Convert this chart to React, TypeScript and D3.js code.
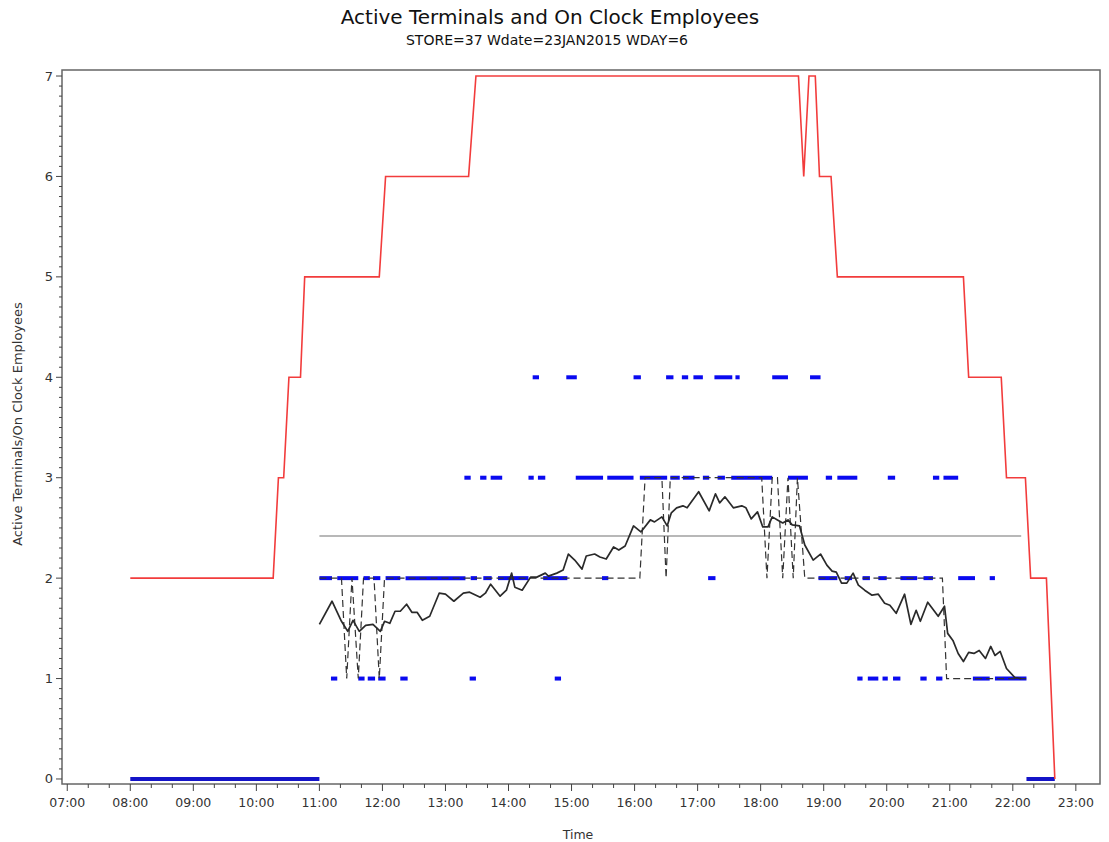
import React from "react";
import * as d3 from "d3";

// ---------- data ----------
const redTimes = ["08:00","10:16","10:21","10:26","10:31","10:42","10:46","11:57","12:03","13:22","13:29","18:36","18:41","18:46","18:52","18:56","19:07","19:13","21:13","21:18","21:49","21:54","22:12","22:17","22:32","22:40"];
const redValues = [2,2,3,3,4,4,5,5,6,6,7,7,6,7,7,6,6,5,5,4,4,3,3,2,2,0];

const dashTimes = ["11:00","11:21","11:26","11:31","11:37","11:42","11:52","11:57","12:02","16:05","16:10","16:26","16:30","16:34","18:01","18:06","18:11","18:16","18:21","18:26","18:31","18:35","18:42","20:53","20:57","22:13"];
const dashValues = [2,2,1,2,1,2,2,1,2,2,3,3,2,3,3,2,3,3,2,3,2,3,2,2,1,1];

const empTimes = ["11:00","11:12","11:21","11:27","11:32","11:38","11:44","11:51","11:58","12:02","12:07","12:12","12:17","12:23","12:28","12:33","12:38","12:45","12:54","13:00","13:08","13:17","13:23","13:33","13:38","13:43","13:52","13:58","14:03","14:06","14:13","14:21","14:27","14:35","14:38","14:46","14:52","14:57","15:03","15:10","15:14","15:22","15:27","15:33","15:40","15:45","15:51","15:59","16:06","16:15","16:19","16:26","16:31","16:35","16:40","16:46","16:50","17:01","17:11","17:17","17:21","17:26","17:34","17:42","17:46","17:51","17:57","18:02","18:07","18:11","18:16","18:21","18:26","18:30","18:37","18:42","18:50","18:57","19:03","19:08","19:12","19:17","19:22","19:28","19:33","19:39","19:46","19:52","19:58","20:03","20:09","20:17","20:23","20:28","20:32","20:39","20:44","20:49","20:55","20:58","21:03","21:08","21:13","21:18","21:23","21:28","21:34","21:39","21:43","21:48","21:54","22:02","22:08"];
const empValues = [1.54,1.77,1.57,1.47,1.58,1.47,1.53,1.54,1.47,1.57,1.55,1.67,1.67,1.74,1.66,1.66,1.58,1.62,1.85,1.84,1.77,1.85,1.86,1.81,1.85,1.94,1.82,1.88,2.05,1.91,1.88,2.01,2.01,2.05,2.02,2.05,2.08,2.24,2.18,2.09,2.22,2.24,2.21,2.19,2.31,2.28,2.32,2.52,2.46,2.58,2.56,2.61,2.52,2.65,2.70,2.72,2.70,2.86,2.67,2.84,2.75,2.81,2.70,2.72,2.70,2.59,2.66,2.51,2.51,2.61,2.58,2.55,2.58,2.53,2.52,2.33,2.18,2.24,2.13,2.07,2.06,1.95,1.95,2.05,1.93,1.88,1.83,1.84,1.75,1.73,1.65,1.84,1.54,1.68,1.57,1.76,1.69,1.62,1.72,1.45,1.38,1.25,1.17,1.26,1.25,1.28,1.20,1.32,1.23,1.27,1.10,1.01,1.00];

const meanValue = 2.42;
const meanStart = "11:00";
const meanEnd = "22:08";

// blue terminal segments: [start, end] per level
const blueLevel0 = [["08:00","11:00"],["22:13","22:40"]];
const blueLevel1 = [["11:11","11:17"],["11:37","11:43"],["11:46","11:53"],["11:56","12:03"],["12:17","12:24"],["13:23","13:29"],["14:44","14:50"],["19:32","19:37"],["19:42","19:52"],["19:56","20:01"],["20:06","20:13"],["20:32","20:38"],["20:47","20:53"],["21:22","21:38"],["21:43","22:13"]];
const blueLevel2 = [["11:00","11:12"],["11:17","11:37"],["11:42","11:48"],["11:51","11:58"],["12:03","12:17"],["12:22","13:19"],["13:24","13:30"],["13:36","13:44"],["13:50","14:19"],["14:33","14:56"],["15:29","15:35"],["17:10","17:17"],["18:55","19:13"],["19:20","19:27"],["19:37","19:44"],["19:52","20:00"],["20:13","20:29"],["20:35","20:44"],["21:08","21:24"],["21:38","21:43"]];
const blueLevel3 = [["13:18","13:24"],["13:33","13:39"],["13:43","13:54"],["14:19","14:24"],["14:28","14:35"],["15:04","15:30"],["15:34","15:59"],["16:05","16:31"],["16:34","16:43"],["16:46","16:57"],["17:05","17:11"],["17:19","17:26"],["17:32","18:11"],["18:26","18:45"],["19:02","19:08"],["19:13","19:32"],["20:01","20:08"],["20:44","20:50"],["20:54","21:08"]];
const blueLevel4 = [["14:23","14:29"],["14:55","15:05"],["15:59","16:06"],["16:30","16:37"],["16:45","16:51"],["16:56","17:05"],["17:16","17:33"],["17:36","17:40"],["18:11","18:26"],["18:47","18:57"]];

const blueLevels = [blueLevel0, blueLevel1, blueLevel2, blueLevel3, blueLevel4];

const yTicks = [0, 1, 2, 3, 4, 5, 6, 7];
const xTickLabels = ["07:00","08:00","09:00","10:00","11:00","12:00","13:00","14:00","15:00","16:00","17:00","18:00","19:00","20:00","21:00","22:00","23:00"];

const titleText = "Active Terminals and On Clock Employees";
const subtitleText = "STORE=37 Wdate=23JAN2015 WDAY=6";
const yLabel = "Active Terminals/On Clock Employees";
const xLabel = "Time";

// ---------- helpers ----------
const toMin = (s: string) => {
  const [h, m] = s.split(":").map(Number);
  return h * 60 + m;
};

const W = 1109;
const H = 842;
const L = 62, R = 1100, T = 70, B = 784;

export default function App() {
  const x = d3.scaleLinear().domain([415, 1403]).range([L, R]);
  const y = d3.scaleLinear().domain([-0.05, 7.06]).range([B, T]);

  const lineGen = d3
    .line<[number, number]>()
    .x((d) => x(d[0]))
    .y((d) => y(d[1]));

  const redPath = lineGen(redTimes.map((t, i) => [toMin(t), redValues[i]]))!;
  const dashPath = lineGen(dashTimes.map((t, i) => [toMin(t), dashValues[i]]))!;
  const empPath = lineGen(empTimes.map((t, i) => [toMin(t), empValues[i]]))!;

  const font = "'DejaVu Sans', Verdana, sans-serif";
  const axisColor = "#444";
  const textColor = "#333";

  const minorY = d3.range(0, 71).map((i) => i / 10).filter((v) => Math.abs(v - Math.round(v)) > 1e-6);
  const majorX = xTickLabels.map(toMin);
  const minorX = d3.range(toMin("07:00"), toMin("23:00"), 20).filter((m) => m % 60 !== 0);

  return (
    <svg
      width={W}
      height={H}
      style={{ position: "absolute", left: 0, top: 0, background: "#fff" }}
      fontFamily={font}
    >
      <rect x={0} y={0} width={W} height={H} fill="#fff" />
      {/* titles */}
      <text x={550} y={24} textAnchor="middle" fontSize={20} fill="#111">
        {titleText}
      </text>
      <text x={547} y={45} textAnchor="middle" fontSize={14} fill="#111">
        {subtitleText}
      </text>

      {/* frame */}
      <rect x={L} y={T} width={R - L} height={B - T} fill="none" stroke="#666" strokeWidth={1.5} />

      {/* y axis ticks */}
      {yTicks.map((v) => (
        <g key={"y" + v}>
          <line x1={L - 6} x2={L} y1={y(v)} y2={y(v)} stroke={axisColor} strokeWidth={1} />
          <text x={L - 9} y={y(v) + 4.5} textAnchor="end" fontSize={13} fill={textColor}>
            {v}
          </text>
        </g>
      ))}
      {minorY.map((v) => (
        <line key={"my" + v} x1={L - 3} x2={L} y1={y(v)} y2={y(v)} stroke={axisColor} strokeWidth={1} />
      ))}

      {/* x axis ticks */}
      {majorX.map((m, i) => (
        <g key={"x" + m}>
          <line x1={x(m)} x2={x(m)} y1={B} y2={B + 7} stroke={axisColor} strokeWidth={1} />
          <text x={x(m)} y={B + 23} textAnchor="middle" fontSize={12.5} fill={textColor}>
            {xTickLabels[i]}
          </text>
        </g>
      ))}
      {minorX.map((m) => (
        <line key={"mx" + m} x1={x(m)} x2={x(m)} y1={B} y2={B + 4} stroke={axisColor} strokeWidth={1} />
      ))}

      {/* axis labels */}
      <text x={578} y={839} textAnchor="middle" fontSize={12.5} fill={textColor}>
        {xLabel}
      </text>
      <text
        transform={`translate(22, 424) rotate(-90)`}
        textAnchor="middle"
        fontSize={13}
        fill={textColor}
      >
        {yLabel}
      </text>

      {/* mean line */}
      <line
        x1={x(toMin(meanStart))}
        x2={x(toMin(meanEnd))}
        y1={y(meanValue)}
        y2={y(meanValue)}
        stroke="#a0a0a0"
        strokeWidth={1.5}
      />

      {/* blue terminal segments */}
      {blueLevels.map((segs, level) =>
        segs.map((s, j) => (
          <line
            key={`b${level}-${j}`}
            x1={x(toMin(s[0]))}
            x2={x(toMin(s[1]))}
            y1={y(level)}
            y2={y(level)}
            stroke={level === 0 ? "#1414c8" : "#0a0af0"}
            strokeWidth={4}
          />
        ))
      )}

      {/* dashed line */}
      <path d={dashPath} fill="none" stroke="#333" strokeWidth={1.2} strokeDasharray="7,4" />

      {/* employees line */}
      <path d={empPath} fill="none" stroke="#2a2a2a" strokeWidth={1.7} strokeLinejoin="round" />

      {/* red line */}
      <path d={redPath} fill="none" stroke="#f23c3c" strokeWidth={1.6} />
    </svg>
  );
}
